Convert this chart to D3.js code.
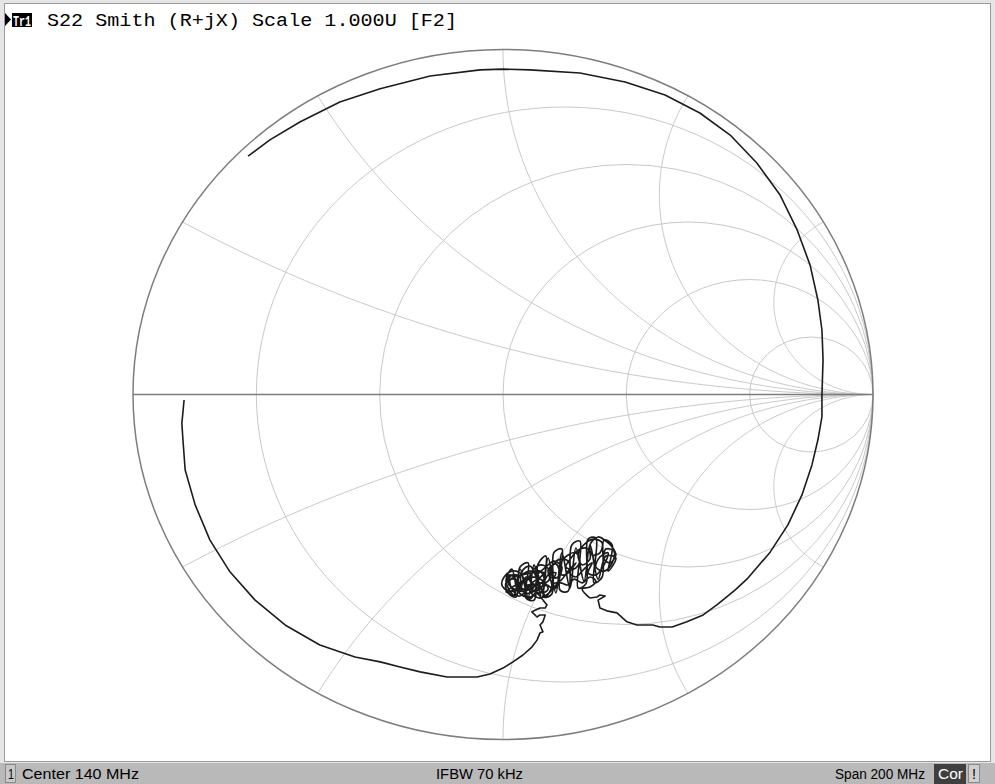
<!DOCTYPE html>
<html>
<head>
<meta charset="utf-8">
<script src="https://cdn.jsdelivr.net/npm/d3@7"></script>
<style>
  body { margin: 0; background: #ffffff; }
  svg { display: block; }
</style>
</head>
<body>
<div id="chart"></div>
<script>
// Smith grid values: resistance circles and reactance arcs
const rValues = [0.2, 0.5, 1, 2, 5];
const xValues = [0.268, 0.577, 1, 1.732, 3.732];

// S22 trace, reflection coefficient [re, im]
// from the left end, down round the bottom to the noisy spot
const s22Lower = [[-0.862,-0.016],[-0.865,-0.051],[-0.868,-0.083],[-0.865,-0.132],[-0.859,-0.219],[-0.832,-0.320],[-0.792,-0.422],[-0.738,-0.514],[-0.670,-0.596],[-0.589,-0.668],[-0.495,-0.726],[-0.400,-0.761],[-0.332,-0.775],[-0.278,-0.790],[-0.224,-0.804],[-0.151,-0.819],[-0.070,-0.819],[-0.035,-0.810],[0.000,-0.793],[0.027,-0.775],[0.054,-0.755],[0.078,-0.732],[0.092,-0.712],[0.100,-0.691],[0.108,-0.688],[0.100,-0.668],[0.108,-0.659],[0.114,-0.639],[0.100,-0.639],[0.092,-0.645],[0.078,-0.630],[0.100,-0.619],[0.114,-0.619],[0.119,-0.610],[0.108,-0.596]];

// the noisy cluster (many small loops)
const s22Cluster = [[0.089,-0.575],[0.073,-0.593],[0.057,-0.575],[0.068,-0.552],[0.089,-0.558],[0.084,-0.581],[0.062,-0.587],[0.041,-0.570],[0.046,-0.546],[0.068,-0.535],[0.078,-0.558],[0.057,-0.570],[0.030,-0.564],[0.014,-0.546],[0.024,-0.523],[0.046,-0.529],[0.041,-0.558],[0.014,-0.570],[-0.003,-0.552],[0.003,-0.529],[0.024,-0.512],[0.046,-0.517],[0.062,-0.541],[0.078,-0.517],[0.100,-0.512],[0.111,-0.535],[0.095,-0.552],[0.073,-0.541],[0.084,-0.506],[0.105,-0.494],[0.127,-0.512],[0.122,-0.541],[0.100,-0.546],[0.089,-0.529],[0.116,-0.500],
  [0.138,-0.483],[0.159,-0.500],[0.149,-0.529],[0.127,-0.529],[0.132,-0.500],[0.154,-0.477],[0.176,-0.483],[0.181,-0.512],[0.159,-0.523],[0.154,-0.494],[0.176,-0.465],[0.197,-0.459],[0.208,-0.483],[0.192,-0.506],[0.170,-0.500],[0.186,-0.471],[0.208,-0.448],[0.230,-0.448],[0.235,-0.477],[0.214,-0.494],[0.203,-0.465],[0.224,-0.430],[0.246,-0.419],[0.268,-0.430],[0.262,-0.459],[0.241,-0.465],[0.235,-0.436],[0.257,-0.413],[0.278,-0.425],[0.295,-0.442],[0.305,-0.465],[0.289,-0.488],[0.273,-0.477],[0.278,-0.448],[0.300,-0.454],[0.295,-0.488],[0.273,-0.512],[0.251,-0.500],[0.262,-0.471],[0.284,-0.459],
  [0.273,-0.494],[0.251,-0.523],[0.230,-0.517],[0.241,-0.488],[0.219,-0.506],[0.197,-0.529],[0.181,-0.517],[0.197,-0.488],[0.176,-0.512],[0.154,-0.541],[0.132,-0.546],[0.143,-0.517],[0.122,-0.523],[0.100,-0.564],[0.078,-0.570],[0.095,-0.535],[0.073,-0.529],[0.051,-0.546],[0.035,-0.581],[0.014,-0.575],[0.008,-0.546],[0.030,-0.535],[0.051,-0.558],
  [0.019,-0.523],[0.008,-0.567],[0.035,-0.587],[0.046,-0.500],[0.068,-0.488],[0.062,-0.590],[0.084,-0.596],[0.095,-0.491],[0.116,-0.468],[0.111,-0.587],[0.132,-0.578],[0.138,-0.457],[0.159,-0.448],[0.154,-0.567],[0.176,-0.570],[0.186,-0.436],[0.208,-0.425],[0.203,-0.561],[0.224,-0.549],[0.230,-0.419],[0.251,-0.416],[0.246,-0.546],[0.268,-0.529],[0.273,-0.422],[0.295,-0.436],[0.284,-0.512],[0.305,-0.474],
  [0.278,-0.468],[0.257,-0.535],[0.235,-0.436],[0.219,-0.541],[0.197,-0.445],[0.181,-0.561],[0.159,-0.459],[0.143,-0.575],[0.122,-0.474],[0.105,-0.590],[0.084,-0.494],[0.068,-0.587],[0.046,-0.506],[0.030,-0.581],[0.008,-0.541],[0.024,-0.506],[0.041,-0.572],
  [0.062,-0.529],[0.078,-0.546],[0.057,-0.564],[0.035,-0.546],[0.051,-0.523],[0.073,-0.512],[0.095,-0.523],[0.084,-0.570],[0.062,-0.575],[0.073,-0.552],[0.100,-0.535],[0.122,-0.564],[0.105,-0.575],[0.089,-0.546],[0.111,-0.517],
  [0.019,-0.538],[0.041,-0.584],[0.062,-0.567],[0.051,-0.514],[0.073,-0.497],[0.095,-0.543],[0.116,-0.584],[0.132,-0.555],[0.122,-0.509],[0.143,-0.491],[0.154,-0.526],[0.132,-0.567],[0.100,-0.590],[0.078,-0.578],[0.057,-0.543],[0.030,-0.555],[0.008,-0.572],
  [0.073,-0.564],[0.100,-0.575],[0.116,-0.552],[0.138,-0.564],[0.154,-0.546],[0.176,-0.552],[0.192,-0.535],[0.214,-0.546],[0.235,-0.529],[0.251,-0.541],[0.235,-0.558],[0.214,-0.564]];

// from the noisy spot round the right side and over the top
const s22Upper = [[0.235,-0.590],[0.254,-0.587],[0.262,-0.581],[0.276,-0.584],[0.257,-0.596],[0.262,-0.619],[0.284,-0.628],[0.308,-0.633],[0.335,-0.659],[0.362,-0.668],[0.405,-0.668],[0.424,-0.674],[0.457,-0.674],[0.497,-0.659],[0.541,-0.639],[0.578,-0.610],[0.627,-0.567],[0.662,-0.532],[0.722,-0.457],[0.770,-0.378],[0.808,-0.291],[0.835,-0.204],[0.851,-0.132],[0.862,-0.065],[0.862,-0.001],[0.865,0.100],[0.862,0.187],[0.851,0.274],[0.830,0.375],[0.795,0.477],[0.749,0.578],[0.686,0.671],[0.614,0.752],[0.532,0.816],[0.438,0.868],[0.330,0.906],[0.208,0.932],[0.073,0.941],[0.000,0.943],[-0.062,0.941],[-0.197,0.923],[-0.332,0.886],[-0.441,0.848],[-0.549,0.790],[-0.630,0.738],[-0.689,0.691]];

const titleText = "S22 Smith (R+jX) Scale 1.000U [F2]";
const statusLeft = "Center 140 MHz";
const statusMid = "IFBW 70 kHz";
const statusRight = "Span 200 MHz";

const width = 995, height = 784;
const dimensions = { cx: 503, cy: 394.5, rx: 370, ry: 345 };

const svg = d3.select("#chart").append("svg")
  .attr("width", width)
  .attr("height", height);

// window frame
svg.append("rect").attr("width", width).attr("height", height).attr("fill", "#e6e6e6");
svg.append("rect")
  .attr("x", 4.5).attr("y", 3.5)
  .attr("width", 986).attr("height", 758)
  .attr("fill", "#ffffff")
  .attr("stroke", "#9a9a9a");

// scales
const xScale = d3.scaleLinear().domain([-1, 1]).range([dimensions.cx - dimensions.rx, dimensions.cx + dimensions.rx]);
const yScale = d3.scaleLinear().domain([-1, 1]).range([dimensions.cy + dimensions.ry, dimensions.cy - dimensions.ry]);

const line = d3.line().x(d => xScale(d[0])).y(d => yScale(d[1]));

const grid = svg.append("g").attr("fill", "none").attr("stroke", "#c9c9c9").attr("stroke-width", 1);

// constant resistance circles
grid.selectAll(".rcircle")
  .data(rValues)
  .join("ellipse")
    .attr("class", "rcircle")
    .attr("cx", r => xScale(r / (r + 1)))
    .attr("cy", yScale(0))
    .attr("rx", r => xScale(1 / (r + 1)) - xScale(0))
    .attr("ry", r => yScale(0) - yScale(1 / (r + 1)));

// constant reactance arcs
function arcPoints(xv) {
  const c = 1 / xv;
  const end = [(xv * xv - 1) / (xv * xv + 1), 2 * xv / (xv * xv + 1)];
  const a1 = xv > 0 ? -Math.PI / 2 : Math.PI / 2;
  let a2 = Math.atan2(end[1] - c, end[0] - 1);
  if (xv > 0 && a2 > 0) a2 -= 2 * Math.PI;
  if (xv < 0 && a2 < 0) a2 += 2 * Math.PI;
  return d3.range(0, 201).map(i => {
    const a = a1 + (a2 - a1) * i / 200;
    return [1 + Math.abs(c) * Math.cos(a), c + Math.abs(c) * Math.sin(a)];
  });
}

const allX = xValues.concat(xValues.map(v => -v));
grid.selectAll(".xarc")
  .data(allX)
  .join("path")
    .attr("class", "xarc")
    .attr("d", v => line(arcPoints(v)));

// outer circle and real axis
svg.append("ellipse")
  .attr("cx", xScale(0)).attr("cy", yScale(0))
  .attr("rx", xScale(1) - xScale(0)).attr("ry", yScale(0) - yScale(1))
  .attr("fill", "none").attr("stroke", "#7d7d7d").attr("stroke-width", 1.5);

svg.append("line")
  .attr("x1", xScale(-1)).attr("x2", xScale(1))
  .attr("y1", yScale(0)).attr("y2", yScale(0))
  .attr("stroke", "#7d7d7d").attr("stroke-width", 1.5);

// trace
const traceG = svg.append("g").attr("fill", "none").attr("stroke", "#1c1c1c").attr("stroke-linejoin", "round");
traceG.append("path")
  .datum(s22Lower)
  .attr("d", line)
  .attr("stroke-width", 1.6);
traceG.append("path")
  .datum([s22Lower[s22Lower.length - 1]].concat(s22Cluster, [s22Upper[0]]))
  .attr("d", line.curve(d3.curveCatmullRom))
  .attr("stroke-width", 1.7);
line.curve(d3.curveLinear);
traceG.append("path")
  .datum(s22Upper)
  .attr("d", line)
  .attr("stroke-width", 1.6);

// title line
svg.append("path")
  .attr("d", "M5,13 L11,19.5 L5,26 Z")
  .attr("fill", "#000");
svg.append("rect")
  .attr("x", 12).attr("y", 13).attr("width", 20).attr("height", 14)
  .attr("fill", "#000");
svg.append("text")
  .attr("x", 13).attr("y", 25.5)
  .attr("font-family", "Liberation Mono, DejaVu Sans Mono, monospace")
  .attr("font-size", 15).attr("font-weight", "bold")
  .attr("fill", "#fff")
  .attr("textLength", 18).attr("lengthAdjust", "spacingAndGlyphs")
  .text("Tr1");
svg.append("text")
  .attr("x", 47).attr("y", 26)
  .attr("font-family", "Liberation Mono, DejaVu Sans Mono, monospace")
  .attr("font-size", 18.5)
  .attr("fill", "#000")
  .attr("textLength", 410).attr("lengthAdjust", "spacingAndGlyphs")
  .text(titleText);

// status bar
const bar = svg.append("g");
bar.append("rect").attr("x", 0).attr("y", 763).attr("width", width).attr("height", 21).attr("fill", "#b9b9b9");
bar.append("rect").attr("x", 5.5).attr("y", 764.5).attr("width", 10).attr("height", 18)
  .attr("fill", "#c8c8c8").attr("stroke", "#8a8a8a");
bar.append("rect").attr("x", 934).attr("y", 764).attr("width", 32).attr("height", 20).attr("fill", "#3f3f3f");
bar.append("rect").attr("x", 968.5).attr("y", 764.5).attr("width", 11).attr("height", 18)
  .attr("fill", "#cfcfcf").attr("stroke", "#8a8a8a");

const statusFont = "Liberation Sans, Arial, sans-serif";
const statusTexts = [
  { t: "1", x: 8, len: 6, c: "#000" },
  { t: statusLeft, x: 22, len: 117, c: "#000" },
  { t: statusMid, x: 436, len: 87, c: "#000" },
  { t: statusRight, x: 835, len: 90, c: "#000" },
  { t: "Cor", x: 938, len: 25, c: "#fff" },
  { t: "!", x: 972, len: 4, c: "#000" }
];
bar.selectAll(".status")
  .data(statusTexts)
  .join("text")
    .attr("class", "status")
    .attr("x", d => d.x).attr("y", 779)
    .attr("font-family", statusFont)
    .attr("font-size", 14)
    .attr("fill", d => d.c)
    .attr("textLength", d => d.len).attr("lengthAdjust", "spacingAndGlyphs")
    .text(d => d.t);
</script>
</body>
</html>
